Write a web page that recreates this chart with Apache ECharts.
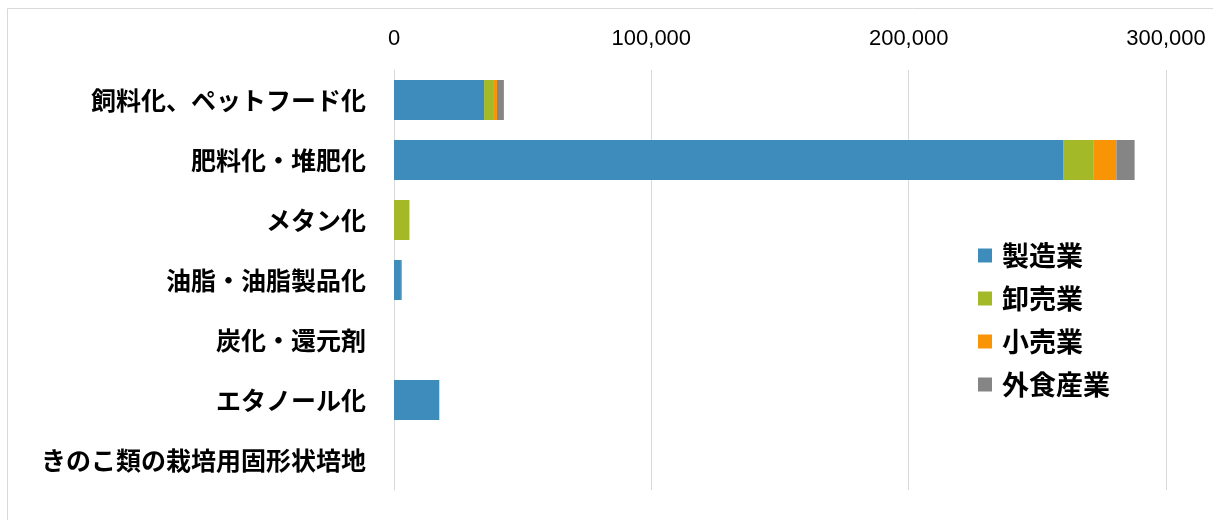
<!DOCTYPE html>
<html><head><meta charset="utf-8">
<script src="https://cdn.jsdelivr.net/npm/echarts@6/dist/echarts.min.js"></script>
<style>html,body{margin:0;padding:0;background:#fff}#c{width:1213px;height:520px}</style>
</head><body><div id="c"></div>
<script>
const categories = ['飼料化、ペットフード化','肥料化・堆肥化','メタン化','油脂・油脂製品化','炭化・還元剤','エタノール化','きのこ類の栽培用固形状培地'];
const seriesNames = ['製造業','卸売業','小売業','外食産業'];
const manufacturing = [35000, 260000, 0, 2700, 0, 17600, 0];
const wholesale = [3500, 11700, 6000, 0, 0, 0, 0];
const retail = [1500, 9000, 0, 0, 0, 0, 0];
const foodService = [2700, 7100, 0, 300, 0, 0, 0];
const xTicks = [0, 100000, 200000, 300000];
const colors = ['#3d8cbb', '#a4b928', '#f89406', '#858585'];

const chart = echarts.init(document.getElementById('c'));
const values = [manufacturing, wholesale, retail, foodService];
chart.setOption({
  animation: false,
  graphic: [{type:'rect', shape:{x:7.5,y:8.5,width:1230,height:530}, style:{fill:'none', stroke:'#d9d9d9', lineWidth:1}, silent:true}],
  grid: {left: 394, right: 47, top: 70, bottom: 30, containLabel: false},
  legend: {
    orient: 'vertical', left: 973, top: 237, itemWidth: 14, itemHeight: 14, itemGap: 16,
    icon: 'rect',
    textStyle: {fontSize: 27, fontWeight: 'bold', color: '#000', fontFamily: 'Noto Sans CJK JP', padding: [0,0,0,5]},
    data: seriesNames
  },
  xAxis: {
    type: 'value', position: 'top', min: xTicks[0], max: xTicks[xTicks.length-1], interval: 100000,
    axisLine: {show: false}, axisTick: {show: false},
    splitLine: {lineStyle: {color: '#d9d9d9'}},
    axisLabel: {fontSize: 22, color: '#000', fontFamily: 'Liberation Sans', margin: 20,
      formatter: v => v.toLocaleString('en-US')}
  },
  yAxis: {
    type: 'category', inverse: true, data: categories,
    axisLine: {lineStyle: {color: '#d9d9d9'}}, axisTick: {show: false},
    axisLabel: {fontSize: 25, fontWeight: 'bold', color: '#000', fontFamily: 'Noto Sans CJK JP', margin: 28}
  },
  series: seriesNames.map((n, i) => ({
    name: n, type: 'bar', stack: 'total', data: values[i], barWidth: 40,
    itemStyle: {color: colors[i]}
  }))
});
</script></body></html>
